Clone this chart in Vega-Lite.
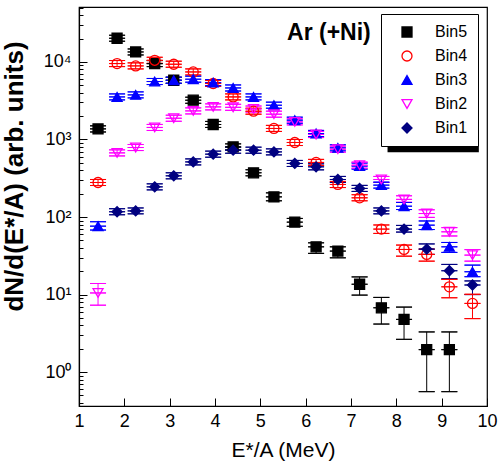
{
  "$schema": "https://vega.github.io/schema/vega-lite/v6.json",
  "width": 408,
  "height": 399,
  "autosize": {"type": "none"},
  "padding": {"left": 79, "top": 7, "right": 12, "bottom": 59},
  "background": "white",
  "config": {
    "view": {"stroke": "black", "strokeWidth": 1.2},
    "font": "Liberation Sans",
    "axis": {"domainColor": "black", "domainWidth": 1.2, "tickColor": "black", "tickWidth": 1, "labelColor": "black", "titleColor": "black", "grid": false, "labelFont": "Liberation Sans", "titleFont": "Liberation Sans"}
  },
  "data": {"values": [
    {"bin": "Bin5", "x": 1.42, "y": 1370, "lo": 1250, "hi": 1500},
    {"bin": "Bin5", "x": 1.84, "y": 20200, "lo": 18500, "hi": 22100},
    {"bin": "Bin5", "x": 2.25, "y": 13450, "lo": 12300, "hi": 14700},
    {"bin": "Bin5", "x": 2.67, "y": 9500, "lo": 8700, "hi": 10400},
    {"bin": "Bin5", "x": 3.09, "y": 5810, "lo": 5300, "hi": 6350},
    {"bin": "Bin5", "x": 3.52, "y": 3210, "lo": 2930, "hi": 3510},
    {"bin": "Bin5", "x": 3.96, "y": 1560, "lo": 1430, "hi": 1710},
    {"bin": "Bin5", "x": 4.40, "y": 803, "lo": 734, "hi": 878},
    {"bin": "Bin5", "x": 4.85, "y": 372, "lo": 340, "hi": 407},
    {"bin": "Bin5", "x": 5.30, "y": 182, "lo": 162, "hi": 205},
    {"bin": "Bin5", "x": 5.76, "y": 86, "lo": 76, "hi": 96},
    {"bin": "Bin5", "x": 6.23, "y": 41.3, "lo": 34, "hi": 46.5},
    {"bin": "Bin5", "x": 6.71, "y": 36.4, "lo": 29.8, "hi": 41.3},
    {"bin": "Bin5", "x": 7.19, "y": 13.6, "lo": 9.85, "hi": 16.9},
    {"bin": "Bin5", "x": 7.67, "y": 6.76, "lo": 4.17, "hi": 9.2},
    {"bin": "Bin5", "x": 8.17, "y": 4.79, "lo": 2.65, "hi": 6.9},
    {"bin": "Bin5", "x": 8.67, "y": 1.95, "lo": 0.56, "hi": 3.3},
    {"bin": "Bin5", "x": 9.17, "y": 1.95, "lo": 0.56, "hi": 3.3},
    {"bin": "Bin4", "x": 1.42, "y": 279, "lo": 255, "hi": 305},
    {"bin": "Bin4", "x": 1.84, "y": 9530, "lo": 8710, "hi": 10430},
    {"bin": "Bin4", "x": 2.25, "y": 8890, "lo": 8130, "hi": 9730},
    {"bin": "Bin4", "x": 2.67, "y": 10500, "lo": 9600, "hi": 11490},
    {"bin": "Bin4", "x": 3.09, "y": 9340, "lo": 8540, "hi": 10220},
    {"bin": "Bin4", "x": 3.52, "y": 7430, "lo": 6790, "hi": 8130},
    {"bin": "Bin4", "x": 3.96, "y": 5270, "lo": 4820, "hi": 5770},
    {"bin": "Bin4", "x": 4.40, "y": 3540, "lo": 3240, "hi": 3870},
    {"bin": "Bin4", "x": 4.85, "y": 2316, "lo": 2120, "hi": 2530},
    {"bin": "Bin4", "x": 5.30, "y": 1387, "lo": 1270, "hi": 1520},
    {"bin": "Bin4", "x": 5.76, "y": 915, "lo": 836, "hi": 1000},
    {"bin": "Bin4", "x": 6.23, "y": 506, "lo": 463, "hi": 554},
    {"bin": "Bin4", "x": 6.71, "y": 263, "lo": 240, "hi": 288},
    {"bin": "Bin4", "x": 7.19, "y": 177, "lo": 162, "hi": 194},
    {"bin": "Bin4", "x": 7.67, "y": 69.9, "lo": 61.5, "hi": 79},
    {"bin": "Bin4", "x": 8.17, "y": 38.2, "lo": 31.3, "hi": 43.5},
    {"bin": "Bin4", "x": 8.67, "y": 33, "lo": 27, "hi": 38.6},
    {"bin": "Bin4", "x": 9.17, "y": 12.6, "lo": 9.1, "hi": 15.7},
    {"bin": "Bin4", "x": 9.68, "y": 7.7, "lo": 4.9, "hi": 10.1},
    {"bin": "Bin3", "x": 1.42, "y": 76.3, "lo": 68, "hi": 87},
    {"bin": "Bin3", "x": 1.84, "y": 3540, "lo": 3240, "hi": 3870},
    {"bin": "Bin3", "x": 2.25, "y": 3760, "lo": 3440, "hi": 4110},
    {"bin": "Bin3", "x": 2.67, "y": 5590, "lo": 5110, "hi": 6120},
    {"bin": "Bin3", "x": 3.09, "y": 5810, "lo": 5310, "hi": 6360},
    {"bin": "Bin3", "x": 3.52, "y": 5990, "lo": 5480, "hi": 6550},
    {"bin": "Bin3", "x": 3.96, "y": 5420, "lo": 4950, "hi": 5930},
    {"bin": "Bin3", "x": 4.40, "y": 4620, "lo": 4220, "hi": 5050},
    {"bin": "Bin3", "x": 4.85, "y": 3540, "lo": 3240, "hi": 3870},
    {"bin": "Bin3", "x": 5.30, "y": 2766, "lo": 2530, "hi": 3030},
    {"bin": "Bin3", "x": 5.76, "y": 1774, "lo": 1620, "hi": 1940},
    {"bin": "Bin3", "x": 6.23, "y": 1195, "lo": 1090, "hi": 1310},
    {"bin": "Bin3", "x": 6.71, "y": 780, "lo": 713, "hi": 853},
    {"bin": "Bin3", "x": 7.19, "y": 454, "lo": 415, "hi": 497},
    {"bin": "Bin3", "x": 7.67, "y": 258, "lo": 236, "hi": 282},
    {"bin": "Bin3", "x": 8.17, "y": 138, "lo": 125, "hi": 154},
    {"bin": "Bin3", "x": 8.67, "y": 78.6, "lo": 69, "hi": 89},
    {"bin": "Bin3", "x": 9.17, "y": 41.3, "lo": 35, "hi": 47},
    {"bin": "Bin3", "x": 9.68, "y": 19.7, "lo": 17, "hi": 24},
    {"bin": "Bin2", "x": 1.42, "y": 10.5, "lo": 7.3, "hi": 13.9},
    {"bin": "Bin2", "x": 1.84, "y": 672, "lo": 614, "hi": 735},
    {"bin": "Bin2", "x": 2.25, "y": 788, "lo": 720, "hi": 862},
    {"bin": "Bin2", "x": 2.67, "y": 1430, "lo": 1307, "hi": 1564},
    {"bin": "Bin2", "x": 3.09, "y": 1880, "lo": 1718, "hi": 2057},
    {"bin": "Bin2", "x": 3.52, "y": 2337, "lo": 2136, "hi": 2557},
    {"bin": "Bin2", "x": 3.96, "y": 2633, "lo": 2407, "hi": 2880},
    {"bin": "Bin2", "x": 4.40, "y": 2600, "lo": 2377, "hi": 2844},
    {"bin": "Bin2", "x": 4.85, "y": 2470, "lo": 2258, "hi": 2702},
    {"bin": "Bin2", "x": 5.30, "y": 2120, "lo": 1938, "hi": 2319},
    {"bin": "Bin2", "x": 5.76, "y": 1687, "lo": 1542, "hi": 1846},
    {"bin": "Bin2", "x": 6.23, "y": 1159, "lo": 1059, "hi": 1268},
    {"bin": "Bin2", "x": 6.71, "y": 750, "lo": 686, "hi": 821},
    {"bin": "Bin2", "x": 7.19, "y": 467, "lo": 427, "hi": 511},
    {"bin": "Bin2", "x": 7.67, "y": 305, "lo": 279, "hi": 334},
    {"bin": "Bin2", "x": 8.17, "y": 169, "lo": 155, "hi": 188},
    {"bin": "Bin2", "x": 8.67, "y": 111, "lo": 99, "hi": 124},
    {"bin": "Bin2", "x": 9.17, "y": 64.5, "lo": 57, "hi": 73},
    {"bin": "Bin2", "x": 9.68, "y": 32.3, "lo": 27, "hi": 38},
    {"bin": "Bin1", "x": 1.84, "y": 117, "lo": 107, "hi": 128},
    {"bin": "Bin1", "x": 2.25, "y": 120, "lo": 110, "hi": 131},
    {"bin": "Bin1", "x": 2.67, "y": 245, "lo": 224, "hi": 268},
    {"bin": "Bin1", "x": 3.09, "y": 340, "lo": 311, "hi": 372},
    {"bin": "Bin1", "x": 3.52, "y": 514, "lo": 470, "hi": 562},
    {"bin": "Bin1", "x": 3.96, "y": 647, "lo": 591, "hi": 708},
    {"bin": "Bin1", "x": 4.40, "y": 728, "lo": 665, "hi": 796},
    {"bin": "Bin1", "x": 4.85, "y": 728, "lo": 665, "hi": 796},
    {"bin": "Bin1", "x": 5.30, "y": 692, "lo": 633, "hi": 757},
    {"bin": "Bin1", "x": 5.76, "y": 491, "lo": 449, "hi": 537},
    {"bin": "Bin1", "x": 6.23, "y": 444, "lo": 406, "hi": 486},
    {"bin": "Bin1", "x": 6.71, "y": 305, "lo": 279, "hi": 334},
    {"bin": "Bin1", "x": 7.19, "y": 234, "lo": 214, "hi": 256},
    {"bin": "Bin1", "x": 7.67, "y": 120, "lo": 110, "hi": 131},
    {"bin": "Bin1", "x": 8.17, "y": 69.9, "lo": 64, "hi": 78},
    {"bin": "Bin1", "x": 8.67, "y": 38.6, "lo": 33, "hi": 45},
    {"bin": "Bin1", "x": 9.17, "y": 20.3, "lo": 16, "hi": 24.5},
    {"bin": "Bin1", "x": 9.68, "y": 13.3, "lo": 10, "hi": 15}
  ]},
  "layer": [
    {
      "data": {"values": [{"shadow": 1}]},
      "mark": {"type": "rect", "fill": "black", "invalid": null},
      "encoding": {
        "x": {"datum": 7.806, "type": "quantitative", "title": "E*/A (MeV)"},
        "x2": {"datum": 9.82},
        "y": {"datum": 34460, "type": "quantitative", "title": "dN/d(E*/A) (arb. units)"},
        "y2": {"datum": 686}
      }
    },
    {
      "encoding": {
        "x": {"field": "x", "type": "quantitative",
          "scale": {"domain": [1, 10], "nice": false, "zero": false},
          "axis": {"title": "E*/A (MeV)", "titleFontSize": 21, "titleFontWeight": "normal", "titlePadding": 9,
            "labelFontSize": 18, "labelPadding": 14,
            "values": [1, 1.5, 2, 2.5, 3, 3.5, 4, 4.5, 5, 5.5, 6, 6.5, 7, 7.5, 8, 8.5, 9, 9.5, 10],
            "labelExpr": "datum.value % 1 == 0 ? format(datum.value, 'd') : ''",
            "tickSize": {"condition": {"test": "datum.value % 1 == 0", "value": -8}, "value": -4},
            "labelFlush": false, "labelOverlap": false}
        },
        "y": {"field": "y", "type": "quantitative",
          "scale": {"type": "log", "domain": [0.366, 51100], "nice": false},
          "axis": {"title": "dN/d(E*/A) (arb. units)", "titleFontSize": 26, "titleFontWeight": "bold",
            "titleX": -52, "titleY": 169, "titleAlign": "center", "titleBaseline": "bottom", "titleAngle": -90,
            "labelFontSize": 18, "labelPadding": 16,
            "values": [0.4, 0.5, 0.6, 0.7, 0.8, 0.9, 1, 2, 3, 4, 5, 6, 7, 8, 9, 10, 20, 30, 40, 50, 60, 70, 80, 90, 100, 200, 300, 400, 500, 600, 700, 800, 900, 1000, 2000, 3000, 4000, 5000, 6000, 7000, 8000, 9000, 10000, 20000, 30000, 40000, 50000],
            "labelExpr": "datum.value == 1 ? '10⁰' : datum.value == 10 ? '10¹' : datum.value == 100 ? '10²' : datum.value == 1000 ? '10³' : datum.value == 10000 ? '10⁴' : ''",
            "tickSize": {"condition": {"test": "datum.value == 1 || datum.value == 10 || datum.value == 100 || datum.value == 1000 || datum.value == 10000", "value": -8}, "value": -4},
            "labelOverlap": false, "labelFlush": false}
        }
      },
      "layer": [
        {
          "mark": {"type": "rule", "strokeWidth": 1},
          "encoding": {
            "y": {"field": "lo", "type": "quantitative"},
            "y2": {"field": "hi"},
            "stroke": {"field": "bin", "type": "nominal"}
          }
        },
        {
          "mark": {"type": "tick", "orient": "horizontal", "size": 16, "thickness": 0.01, "filled": false, "fillOpacity": 0, "strokeWidth": 1},
          "encoding": {
            "y": {"field": "lo", "type": "quantitative"},
            "stroke": {"field": "bin", "type": "nominal"}
          }
        },
        {
          "mark": {"type": "tick", "orient": "horizontal", "size": 16, "thickness": 0.01, "filled": false, "fillOpacity": 0, "strokeWidth": 1},
          "encoding": {
            "y": {"field": "hi", "type": "quantitative"},
            "stroke": {"field": "bin", "type": "nominal"}
          }
        },
        {
          "mark": {"type": "tick", "orient": "horizontal", "size": 16, "thickness": 0.01, "filled": false, "fillOpacity": 0, "strokeWidth": 1},
          "encoding": {
            "stroke": {"field": "bin", "type": "nominal"}
          }
        },
        {
          "mark": {"type": "point", "filled": false, "opacity": 1, "strokeWidth": 1.3, "size": 100},
          "encoding": {
            "stroke": {"field": "bin", "type": "nominal",
              "scale": {"domain": ["Bin5", "Bin4", "Bin3", "Bin2", "Bin1"], "range": ["#000000", "#ff0000", "#0000ff", "#ff00ff", "#000080"]},
              "legend": {"title": null, "orient": "none", "legendX": 302, "legendY": 7, "strokeColor": "black", "fillColor": "white", "padding": 10, "labelFontSize": 16, "labelFont": "Liberation Sans", "labelColor": "black", "symbolSize": 100, "symbolStrokeWidth": 1.3, "symbolOpacity": 1, "rowPadding": 8, "symbolOffset": 8, "labelOffset": 20}},
            "fill": {"field": "bin", "type": "nominal", "scale": {"domain": ["Bin5", "Bin4", "Bin3", "Bin2", "Bin1"], "range": ["#000000", "transparent", "#0000ff", "transparent", "#000080"]}},
            "shape": {"field": "bin", "type": "nominal", "scale": {"domain": ["Bin5", "Bin4", "Bin3", "Bin2", "Bin1"], "range": ["square", "circle", "triangle-up", "triangle-down", "diamond"]}}
          }
        },
        {
          "data": {"values": [{"label": "Ar (+Ni)", "x": 5.59, "y": 19450}]},
          "mark": {"type": "text", "align": "left", "baseline": "alphabetic", "fontSize": 23, "fontWeight": "bold", "font": "Liberation Sans", "color": "black"},
          "encoding": {
            "text": {"field": "label"}
          }
        }
      ]
    }
  ]
}
